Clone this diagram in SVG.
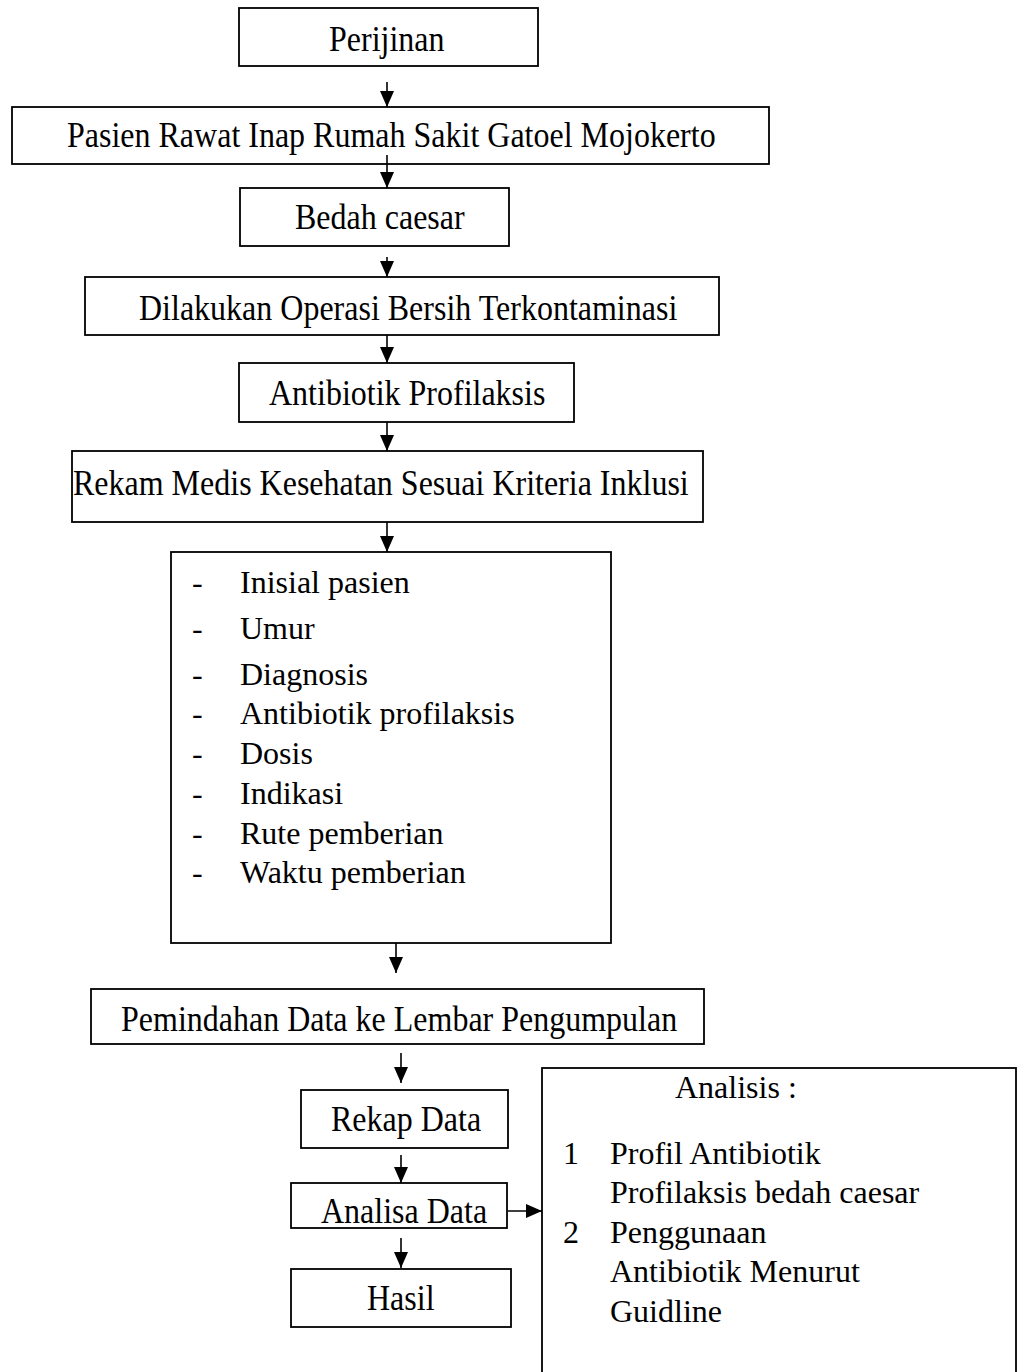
<svg xmlns="http://www.w3.org/2000/svg" width="1024" height="1372" viewBox="0 0 1024 1372">
<style>
.box{fill:#fff;stroke:#000;stroke-width:1.8}
.t{font-family:"Liberation Serif","Times New Roman",serif;font-size:32px;fill:#000}
.c{stroke:#000;stroke-width:1.6;fill:none}
</style>
<defs>
<marker id="ah" markerUnits="userSpaceOnUse" markerWidth="16" markerHeight="14" viewBox="0 0 16 14" refX="16" refY="7" orient="auto">
<path d="M0,0 L16,7 L0,14 z" fill="#000"/>
</marker>
</defs>
<rect width="1024" height="1372" fill="#fff"/>
<g id="n1"><rect class="box" x="239" y="8" width="299" height="58"/><text class="t" transform="translate(329,51) scale(1,1.12)">Perijinan</text></g>
<g id="n2"><rect class="box" x="12" y="107" width="757" height="57"/><text class="t" transform="translate(67,147) scale(1,1.12)">Pasien Rawat Inap Rumah Sakit Gatoel Mojokerto</text></g>
<g id="n3"><rect class="box" x="240" y="188" width="269" height="58"/><text class="t" transform="translate(295,229) scale(1,1.12)">Bedah caesar</text></g>
<g id="n4"><rect class="box" x="85" y="277" width="634" height="58"/><text class="t" transform="translate(139,320) scale(1,1.12)">Dilakukan Operasi Bersih Terkontaminasi</text></g>
<g id="n5"><rect class="box" x="239" y="363" width="335" height="59"/><text class="t" transform="translate(269,405) scale(1,1.12)">Antibiotik Profilaksis</text></g>
<g id="n6"><rect class="box" x="72" y="451" width="631" height="71"/><text class="t" transform="translate(73,495) scale(1,1.12)">Rekam Medis Kesehatan Sesuai Kriteria Inklusi</text></g>
<g id="n7"><rect class="box" x="171" y="552" width="440" height="391"/>
<text class="t" x="192" y="593">-</text><text class="t" x="240" y="593">Inisial pasien</text>
<text class="t" x="192" y="639">-</text><text class="t" x="240" y="639">Umur</text>
<text class="t" x="192" y="685">-</text><text class="t" x="240" y="685">Diagnosis</text>
<text class="t" x="192" y="724">-</text><text class="t" x="240" y="724">Antibiotik profilaksis</text>
<text class="t" x="192" y="764">-</text><text class="t" x="240" y="764">Dosis</text>
<text class="t" x="192" y="804">-</text><text class="t" x="240" y="804">Indikasi</text>
<text class="t" x="192" y="844">-</text><text class="t" x="240" y="844">Rute pemberian</text>
<text class="t" x="192" y="883">-</text><text class="t" x="240" y="883">Waktu pemberian</text>
</g>
<g id="n8"><rect class="box" x="91" y="989" width="613" height="55"/><text class="t" transform="translate(121,1031) scale(1,1.12)">Pemindahan Data ke Lembar Pengumpulan</text></g>
<g id="n9"><rect class="box" x="301" y="1090" width="207" height="58"/><text class="t" transform="translate(331,1131) scale(1,1.12)">Rekap Data</text></g>
<g id="n10"><rect class="box" x="291" y="1183" width="216" height="45"/><text class="t" transform="translate(321,1223) scale(1,1.12)">Analisa Data</text></g>
<g id="n11"><rect class="box" x="291" y="1269" width="220" height="58"/><text class="t" transform="translate(367,1310) scale(1,1.12)">Hasil</text></g>
<g id="n12"><rect class="box" x="542" y="1068" width="474" height="320"/>
<text class="t" x="675" y="1098">Analisis :</text>
<text class="t" x="563" y="1164">1</text><text class="t" x="610" y="1164">Profil Antibiotik</text>
<text class="t" x="610" y="1203">Profilaksis bedah caesar</text>
<text class="t" x="563" y="1243">2</text><text class="t" x="610" y="1243">Penggunaan</text>
<text class="t" x="610" y="1282">Antibiotik Menurut</text>
<text class="t" x="610" y="1322">Guidline</text>
</g>
<g id="connectors">
<line class="c" x1="387" y1="82" x2="387" y2="107" marker-end="url(#ah)"/>
<line class="c" x1="387" y1="155" x2="387" y2="188" marker-end="url(#ah)"/>
<line class="c" x1="387" y1="257" x2="387" y2="277" marker-end="url(#ah)"/>
<line class="c" x1="387" y1="335" x2="387" y2="363" marker-end="url(#ah)"/>
<line class="c" x1="387" y1="422" x2="387" y2="451" marker-end="url(#ah)"/>
<line class="c" x1="387" y1="522" x2="387" y2="552" marker-end="url(#ah)"/>
<line class="c" x1="396" y1="943" x2="396" y2="973" marker-end="url(#ah)"/>
<line class="c" x1="401" y1="1053" x2="401" y2="1083" marker-end="url(#ah)"/>
<line class="c" x1="401" y1="1155" x2="401" y2="1183" marker-end="url(#ah)"/>
<line class="c" x1="401" y1="1238" x2="401" y2="1268" marker-end="url(#ah)"/>
<line class="c" x1="508" y1="1211" x2="542" y2="1211" marker-end="url(#ah)"/>
</g>
</svg>
